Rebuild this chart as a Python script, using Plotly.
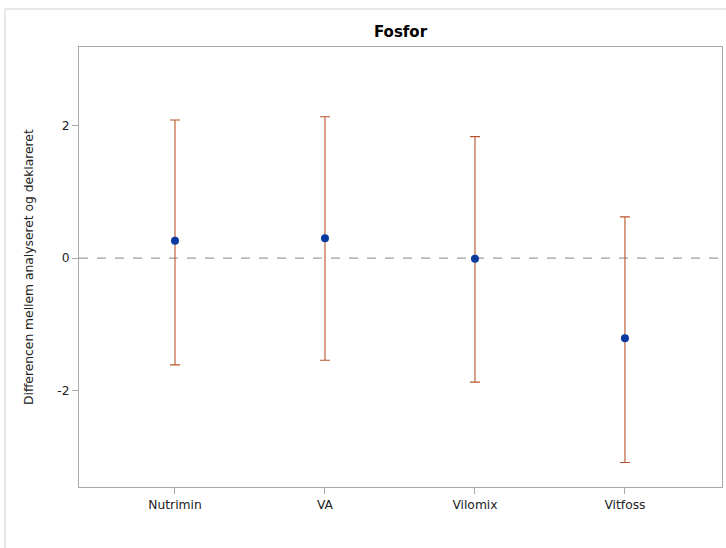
import plotly.graph_objects as go

categories = ["Nutrimin", "VA", "Vilomix", "Vitfoss"]
estimates = [0.26, 0.30, -0.01, -1.21]
upper = [2.08, 2.13, 1.83, 0.62]
lower = [-1.61, -1.54, -1.87, -3.08]
y_ticks = [-2, 0, 2]
y_title = "Differencen mellem analyseret og deklareret"

x_idx = list(range(len(categories)))
err_plus = [u - e for u, e in zip(upper, estimates)]
err_minus = [e - l for e, l in zip(estimates, lower)]

fig = go.Figure()
fig.add_trace(go.Scatter(
    x=x_idx, y=estimates, mode="markers",
    marker=dict(color="#0A3A9E", size=8),
    error_y=dict(type="data", symmetric=False, array=err_plus, arrayminus=err_minus,
                 color="#B9552C", thickness=1.1, width=5),
    showlegend=False, hoverinfo="skip",
))

fig.add_shape(type="line", xref="paper", x0=0, x1=1, yref="y", y0=0, y1=0,
              line=dict(color="#A0A0A0", width=1.3, dash="dash"), layer="below")

# outer frame of the graph area
fig.add_shape(type="rect", xref="paper", yref="paper",
              x0=(5 - 79) / 643, x1=1.03, y0=-0.2, y1=(487 - 9) / 440,
              line=dict(color="#D0D0D0", width=1), layer="below")

tick_font = dict(family="DejaVu Sans, sans-serif", size=12.3, color="#222222")

fig.add_annotation(
    text=y_title, xref="paper", yref="paper",
    x=(29 - 79) / 643, y=(487 - 267) / 440, xanchor="center", yanchor="middle",
    textangle=-90, showarrow=False, font=tick_font,
)

fig.update_layout(
    width=726, height=548,
    margin=dict(l=79, r=4, t=47, b=61),
    paper_bgcolor="white", plot_bgcolor="white",
    font=dict(family="DejaVu Sans, sans-serif", size=12, color="#000000"),
    title=dict(text="<b>Fosfor</b>", x=(79 + 722) / 2 / 726, xanchor="center",
               y=1 - 32 / 548, yanchor="middle",
               font=dict(family="DejaVu Sans, sans-serif", size=15)),
    xaxis=dict(
        tickmode="array", tickvals=x_idx, ticktext=categories,
        range=[-0.64, 3.647], showgrid=False, zeroline=False,
        showline=True, linecolor="#A8A8A8", linewidth=1, mirror=True,
        ticks="outside", ticklen=6, tickcolor="#A8A8A8",
        tickfont=tick_font,
    ),
    yaxis=dict(
        tickmode="array", tickvals=y_ticks, ticktext=[str(v) for v in y_ticks],
        range=[-3.45, 3.18], showgrid=False, zeroline=False,
        showline=True, linecolor="#A8A8A8", linewidth=1, mirror=True,
        ticks="outside", ticklen=6, tickcolor="#A8A8A8",
        tickfont=tick_font,
    ),
)

fig.write_html(
    "out.html",
    config={"displayModeBar": False},
    post_script="document.body.style.margin='0';document.body.style.overflow='hidden';",
)
